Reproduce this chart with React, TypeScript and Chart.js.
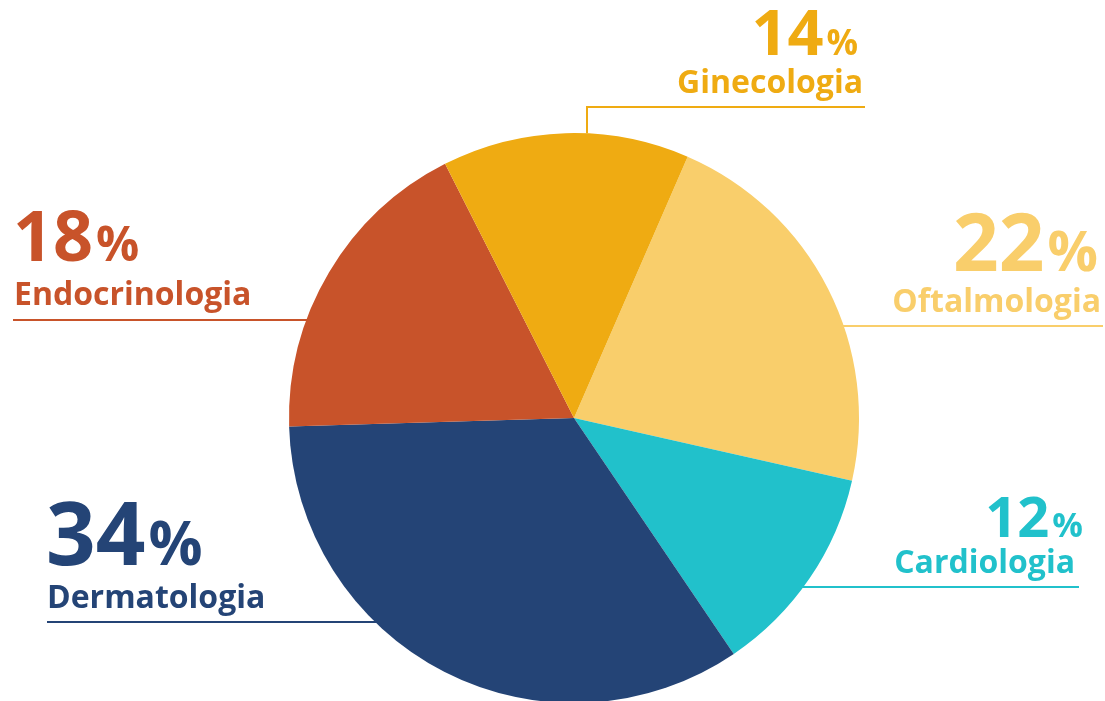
import React, { useEffect, useRef } from "react";
import { Chart, registerables } from "chart.js";

Chart.register(...registerables);

// Data
const categories = ["Oftalmologia", "Cardiologia", "Dermatologia", "Endocrinologia", "Ginecologia"];
const values = [22, 12, 34, 18, 14];
const percentLabels = ["22", "12", "34", "18", "14"];
const colors = ["#F9CE6B", "#21C1CB", "#244476", "#C8532A", "#EFAB12"];

// Label layout (annotation positions / sizes)
type LabelLayout = {
  side: "left" | "right";
  x: number;
  numBaseline: number;
  numSize: number;
  pctSize: number;
  nameBaseline: number;
  lineY: number;
  lineEnd: number;
  vertical?: number;
};
const labelLayout: LabelLayout[] = [
  { side: "right", x: 1098, numBaseline: 271, numSize: 80, pctSize: 56, nameBaseline: 312, lineY: 326, lineEnd: 1103 },
  { side: "right", x: 1083, numBaseline: 537, numSize: 56, pctSize: 34, nameBaseline: 573, lineY: 587, lineEnd: 1079 },
  { side: "left", x: 46, numBaseline: 565, numSize: 87, pctSize: 60, nameBaseline: 608, lineY: 622, lineEnd: 47 },
  { side: "left", x: 13, numBaseline: 261, numSize: 70, pctSize: 48, nameBaseline: 305, lineY: 320, lineEnd: 13 },
  { side: "right", x: 858, numBaseline: 55, numSize: 63, pctSize: 35, nameBaseline: 93, lineY: 107, lineEnd: 865, vertical: 587 },
];
const nameRightOverride = [1101, 1075, 0, 0, 863];

const FONT = '"Open Sans", "Noto Sans", sans-serif';
const NAME_FONT = `700 32px ${FONT}`;

const labelPlugin = {
  id: "calloutLabels",
  afterDraw(chart: any) {
    const ctx = chart.ctx as CanvasRenderingContext2D;
    const meta = chart.getDatasetMeta(0);
    const arc = meta.data[0] as any;
    const cx = arc.x;
    const cy = arc.y;
    const r = arc.outerRadius;
    ctx.save();
    labelLayout.forEach((L, i) => {
      const color = colors[i];
      ctx.fillStyle = color;
      ctx.strokeStyle = color;
      ctx.lineWidth = 2;
      ctx.textBaseline = "alphabetic";
      const num = percentLabels[i];
      ctx.font = `700 ${L.pctSize}px ${FONT}`;
      const pctW = ctx.measureText("%").width;
      ctx.font = `700 ${L.numSize}px ${FONT}`;
      const numW = ctx.measureText(num).width;
      const gap = 3;
      if (L.side === "right") {
        ctx.textAlign = "right";
        ctx.font = `700 ${L.pctSize}px ${FONT}`;
        ctx.fillText("%", L.x, L.numBaseline);
        ctx.font = `700 ${L.numSize}px ${FONT}`;
        ctx.fillText(num, L.x - pctW - gap, L.numBaseline);
        ctx.font = NAME_FONT;
        ctx.fillText(categories[i], nameRightOverride[i] || L.x, L.nameBaseline);
      } else {
        ctx.textAlign = "left";
        ctx.font = `700 ${L.numSize}px ${FONT}`;
        ctx.fillText(num, L.x, L.numBaseline);
        ctx.font = `700 ${L.pctSize}px ${FONT}`;
        ctx.fillText("%", L.x + numW + gap, L.numBaseline);
        ctx.font = NAME_FONT;
        ctx.fillText(categories[i], L.x + 1, L.nameBaseline);
      }
      // leader line
      ctx.beginPath();
      if (L.vertical !== undefined) {
        const yEdge = cy - Math.sqrt(Math.max(0, r * r - (L.vertical - cx) * (L.vertical - cx)));
        ctx.moveTo(L.lineEnd, L.lineY);
        ctx.lineTo(L.vertical, L.lineY);
        ctx.lineTo(L.vertical, yEdge);
      } else {
        const dx = Math.sqrt(Math.max(0, r * r - (L.lineY - cy) * (L.lineY - cy)));
        const xEdge = L.side === "right" ? cx + dx - 2 : cx - dx + 2;
        ctx.moveTo(L.lineEnd, L.lineY);
        ctx.lineTo(xEdge, L.lineY);
      }
      ctx.stroke();
    });
    ctx.restore();
  },
};

export default function App() {
  const canvasRef = useRef<HTMLCanvasElement | null>(null);
  useEffect(() => {
    if (!canvasRef.current) return;
    const chart = new Chart(canvasRef.current, {
      type: "pie",
      data: {
        labels: categories,
        datasets: [
          {
            data: values,
            backgroundColor: colors,
            borderWidth: 0,
          },
        ],
      },
      options: {
        animation: false,
        responsive: false,
        rotation: 23.5,
        layout: { padding: { left: 289, right: 246, top: 133, bottom: 17 } },
        plugins: {
          legend: { display: false },
          tooltip: { enabled: false },
        },
      },
      plugins: [labelPlugin],
    });
    return () => chart.destroy();
  }, []);
  return (
    <div style={{ position: "fixed", left: 0, top: 0, width: 1105, height: 701, overflow: "hidden", background: "#fff" }}>
      <canvas ref={canvasRef} width={1105} height={720} style={{ display: "block", width: 1105, height: 720 }} />
    </div>
  );
}
